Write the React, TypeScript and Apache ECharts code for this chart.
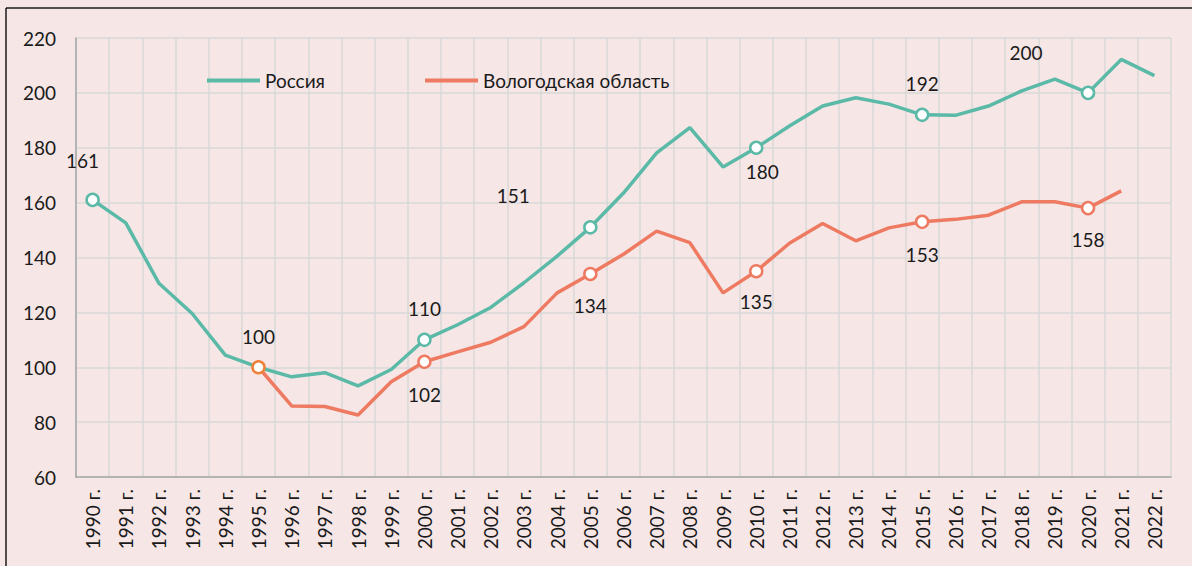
import React, { useEffect, useRef } from "react";
import * as echarts from "echarts";

const years = [
  "1990 г.", "1991 г.", "1992 г.", "1993 г.", "1994 г.", "1995 г.", "1996 г.", "1997 г.", "1998 г.", "1999 г.",
  "2000 г.", "2001 г.", "2002 г.", "2003 г.", "2004 г.", "2005 г.", "2006 г.", "2007 г.", "2008 г.", "2009 г.",
  "2010 г.", "2011 г.", "2012 г.", "2013 г.", "2014 г.", "2015 г.", "2016 г.", "2017 г.", "2018 г.", "2019 г.",
  "2020 г.", "2021 г.", "2022 г.",
];

const russia = [
  161, 152.6, 130.6, 119.6, 104.4, 100, 96.5, 98.0, 93.2, 99.2,
  110, 115.5, 121.8, 130.8, 140.5, 151, 163.5, 178.1, 187.3, 173.0,
  180, 187.9, 195.2, 198.2, 195.9, 192, 191.8, 195.2, 200.7, 205.0,
  200, 212.2, 206.3,
];

const vologda = [
  null, null, null, null, null, 100, 85.9, 85.7, 82.6, 94.7,
  102, 105.6, 109.1, 114.8, 127.1, 134, 141.2, 149.6, 145.4, 127.1,
  135, 145.2, 152.4, 146.1, 150.8, 153, 153.9, 155.4, 160.3, 160.3,
  158, 164.3, null,
];

// labelled points: index -> [label text, label offset]
const russiaMarks: Record<number, [string, number[]]> = {
  0: ["161", [-10, -39]],
  10: ["110", [0, -31]],
  15: ["151", [-77, -32]],
  20: ["180", [6, 24]],
  25: ["192", [0, -31]],
  30: ["200", [-62, -40]],
};
const vologdaMarks: Record<number, [string, number[]]> = {
  5: ["100", [0, -31]],
  10: ["102", [0, 33]],
  15: ["134", [0, 32]],
  20: ["135", [0, 30]],
  25: ["153", [0, 33]],
  30: ["158", [0, 31]],
};

const TEAL = "#5bb9a7";
const RED = "#ee7a62";
const ORANGE = "#ef8038";
const BG = "#f6e6e6";
const FONT = "Lato";
const FS = 19;

function buildData(values: (number | null)[], marks: Record<number, [string, number[]]>, color: string, special?: number) {
  return values.map((v, i) => {
    const m = marks[i];
    if (!m) return { value: v, symbol: "none" };
    return {
      value: v,
      symbol: "circle",
      symbolSize: 12,
      itemStyle: { color: "#ffffff", borderColor: i === special ? ORANGE : color, borderWidth: 2.5 },
      label: {
        show: true,
        position: "inside",
        offset: m[1],
        formatter: m[0],
        color: "#1a1a1a",
        fontSize: FS,
        fontFamily: FONT,
      },
    };
  });
}

export default function App() {
  const ref = useRef<HTMLDivElement>(null);
  useEffect(() => {
    if (!ref.current) return;
    const chart = echarts.init(ref.current, undefined, { renderer: "svg" });
    chart.setOption({
      animation: false,
      backgroundColor: BG,
      textStyle: { fontFamily: FONT },
      grid: { left: 76, right: 21, top: 38, bottom: 89, containLabel: false },
      legend: [
        {
          data: ["Россия"],
          left: 202,
          top: 66,
          icon: "rect",
          itemWidth: 53,
          itemHeight: 4,
          itemGap: 5,
          textStyle: { fontSize: FS, color: "#1a1a1a", fontFamily: FONT },
        },
        {
          data: ["Вологодская область"],
          left: 420,
          top: 66,
          icon: "rect",
          itemWidth: 53,
          itemHeight: 4,
          textStyle: { fontSize: FS, color: "#1a1a1a", fontFamily: FONT },
        },
      ],
      xAxis: {
        type: "category",
        data: years,
        boundaryGap: true,
        axisLine: { show: true, lineStyle: { color: "#a6a6a6", width: 1.5 } },
        axisTick: { show: false },
        splitLine: { show: true, interval: 0, lineStyle: { color: "#d9d9d9", width: 1.5 } },
        axisLabel: {
          interval: 0,
          rotate: 90,
          margin: 12,
          fontSize: FS,
          color: "#1a1a1a",
          fontFamily: FONT,
        },
      },
      yAxis: {
        type: "value",
        min: 60,
        max: 220,
        interval: 20,
        axisLine: { show: true, lineStyle: { color: "#a6a6a6", width: 1.5 } },
        axisTick: { show: false },
        splitLine: { show: true, lineStyle: { color: "#d9d9d9", width: 1.5 } },
        axisLabel: { margin: 20, fontSize: FS, color: "#1a1a1a", fontFamily: FONT },
      },
      series: [
        {
          name: "Россия",
          type: "line",
          data: buildData(russia, russiaMarks, TEAL),
          showAllSymbol: true,
          lineStyle: { color: TEAL, width: 3.5 },
          itemStyle: { color: TEAL },
          z: 2,
        },
        {
          name: "Вологодская область",
          type: "line",
          data: buildData(vologda, vologdaMarks, RED, 5),
          showAllSymbol: true,
          lineStyle: { color: RED, width: 3.5 },
          itemStyle: { color: RED },
          z: 3,
        },
      ],
      graphic: [
        { type: "line", shape: { x1: 6, y1: 8, x2: 1192, y2: 8 }, style: { stroke: "#1a1a1a", lineWidth: 1.5 } },
        { type: "line", shape: { x1: 6, y1: 8, x2: 6, y2: 566 }, style: { stroke: "#1a1a1a", lineWidth: 1.5 } },
      ],
    });
    return () => chart.dispose();
  }, []);
  return (
    <div style={{ position: "fixed", left: 0, top: 0, width: 1192, height: 566, background: BG }}>
      <div ref={ref} style={{ width: 1192, height: 566 }} />
    </div>
  );
}
